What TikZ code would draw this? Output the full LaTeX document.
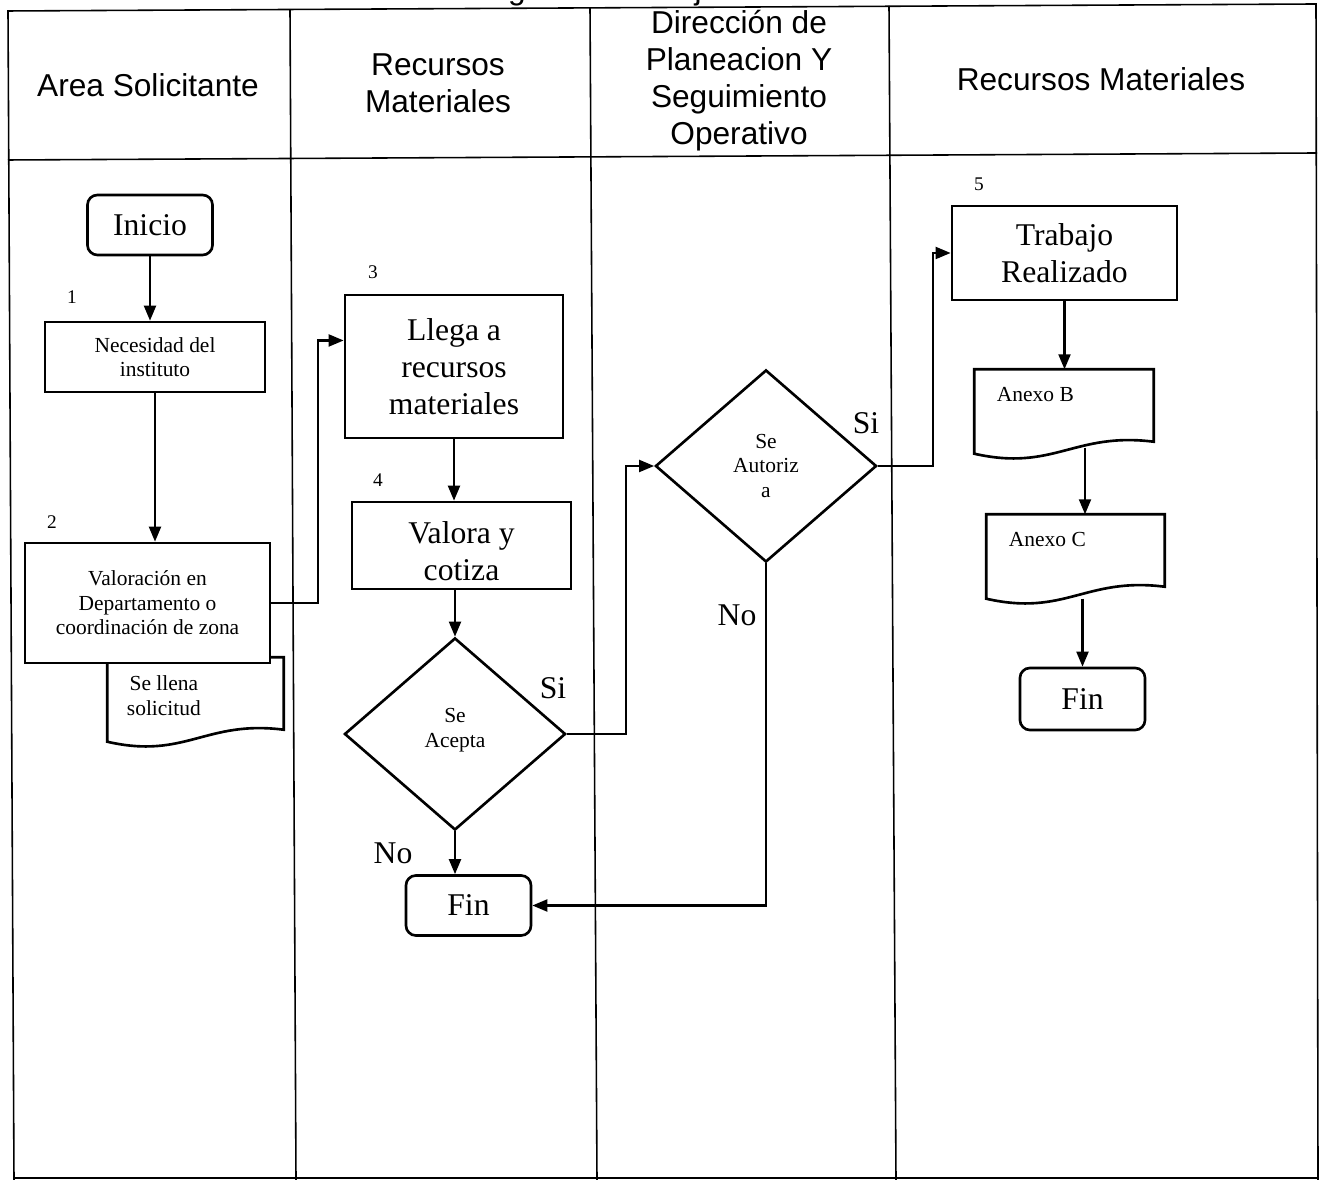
\documentclass[tikz,border=0pt]{standalone}
\usepackage{fontspec}
\setmainfont{Liberation Serif}
\setsansfont{Liberation Sans}
\usetikzlibrary{shapes.geometric,arrows.meta,calc,positioning}

% sheet with a wavy lower edge, drawn round a named node
\newcommand{\docoutline}[1]{%
	\draw[boxline] (#1.north west) -- (#1.north east) -- ($(#1.south east)+(0,-12)$)
		.. controls ($(#1.south)+(10,-22)$) and ($(#1.south)+(-10,18)$) .. (#1.south west) -- cycle;}

\begin{document}
\begin{tikzpicture}[x=0.01cm, y=-0.01cm,
	frameline/.style={line width=0.45pt},
	boxline/.style={line width=0.75pt},
	lane/.style={font=\sffamily\fontsize{9}{10.5}\selectfont, align=center},
	bigtxt/.style={font=\fontsize{9}{10.5}\selectfont, align=center},
	smalltxt/.style={font=\fontsize{6.1}{7}\selectfont, align=center},
	process/.style={draw, boxline, inner sep=0pt, bigtxt},
	terminal/.style={process, rounded corners=1mm, minimum width=1.25cm, minimum height=0.6cm},
	decision/.style={draw, boxline, diamond, inner sep=0pt, minimum width=2.21cm, minimum height=1.92cm, smalltxt},
	docbox/.style={minimum width=1.77cm, minimum height=0.83cm, inner sep=0pt},
	doclbl/.style={smalltxt, anchor=north west, inner sep=0pt},
	stepno/.style={font=\fontsize{5.5}{6}\selectfont},
	answer/.style={bigtxt}]
\useasboundingbox (0,0) rectangle (1321,1180);

% lanes
\node[lane, anchor=base] (title) at (590,0) {Diagrama de Flujo};
\draw[frameline] (14,1180) -- (8,11) -- (1316,4) -- (1318,1180);
\draw[frameline] (14,1178) -- (1318,1178);
\draw[frameline] (8,160) -- (1317,153);
\draw[frameline] (290,10) -- (296,1180);
\draw[frameline] (590,8) -- (597,1180);
\draw[frameline] (889,6) -- (896,1180);
\node[lane] (laneA) at (148,85) {Area Solicitante};
\node[lane] (laneB) at (438,83) {Recursos\\Materiales};
\node[lane] (laneC) at (739,81) {Dirección de\\Planeacion Y\\Seguimiento\\Operativo};
\node[lane] (laneD) at (1101,79) {Recursos Materiales};

% steps
\node[terminal] (inicio) at (150,225) {Inicio};
\node[stepno] (num1) at (72,297) {1};
\node[process, smalltxt, minimum width=2.2cm, minimum height=0.7cm] (necesidad) at (155,357) {Necesidad del\\instituto};
\node[docbox, minimum width=1.75cm, label={[doclbl, xshift=0.19cm, yshift=-0.18cm]north west:Se llena\\solicitud}] (solicitud) at (195.5,699.5) {};
\docoutline{solicitud}
\node[stepno] (num2) at (52,522) {2};
\node[process, smalltxt, fill=white, minimum width=2.45cm, minimum height=1.2cm] (valoracion) at (147.5,603) {Valoración en\\Departamento o\\coordinación de zona};

\node[stepno] (num3) at (373,272) {3};
\node[process, minimum width=2.18cm, minimum height=1.43cm] (llega) at (454,366.5) {Llega a\\recursos\\materiales};
\node[stepno] (num4) at (378,480) {4};
\node[process, minimum width=2.19cm, minimum height=0.87cm] (valora) at (461.5,545.5) {\\[-1.2pt]Valora y\\cotiza};
\node[decision] (acepta) at (455,734) {Se\\Acepta\\[-3.5pt]\mbox{}};
\node[terminal] (finA) at (468.5,905.5) {Fin};

\node[decision] (autoriza) at (766,466) {Se\\Autoriz\\a};

\node[stepno] (num5) at (979,184) {5};
\node[process, minimum width=2.25cm, minimum height=0.94cm] (trabajo) at (1064.5,253) {Trabajo\\Realizado};
\node[docbox, minimum width=1.78cm, label={[doclbl, xshift=0.22cm, yshift=-0.17cm]north west:Anexo B}] (anexoB) at (1064,411.5) {};
\docoutline{anexoB}
\node[docbox, label={[doclbl, xshift=0.22cm, yshift=-0.17cm]north west:Anexo C}] (anexoC) at (1075.5,556.5) {};
\docoutline{anexoC}
\node[terminal, minimum height=0.62cm] (finB) at (1082.5,699) {Fin};

\coordinate (bc) at ($(anexoB.south)+(21,0)$);

\begin{scope}[every path/.style={-{Triangle[length=1.5mm,width=1.2mm]}, line width=0.6pt, draw}]
	\draw (inicio.south) -- (inicio.south |- necesidad.north);
	\draw (necesidad.south) -- (necesidad.south |- valoracion.north);
	\draw (valoracion.east) -- ++(47,0) |- ([yshift=0.26cm]llega.west);
	\draw (llega.south) -- (llega.south |- valora.north);
	\draw (acepta.north |- valora.south) -- (acepta.north);
	\draw (acepta.south) -- (acepta.south |- finA.north);
	\draw (acepta.east) -- ++(59,0) |- (autoriza.west);
	\draw (autoriza.south) |- (finA.east);
	\draw (autoriza.east) -- ++(55,0) |- (trabajo.west);
	\draw (trabajo.south) -- (trabajo.south |- anexoB.north);
	\draw ($(bc)+(0,-6)$) -- (bc |- anexoC.north);
	\draw (finB.north |- anexoC.south) -- (finB.north);
\end{scope}

\node[answer] (siA) at (553,688) {Si};
\node[answer] (noA) at (393,853) {No};
\node[answer] (siB) at (866,423) {Si};
\node[answer] (noB) at (737,615) {No};

\end{tikzpicture}
\end{document}
